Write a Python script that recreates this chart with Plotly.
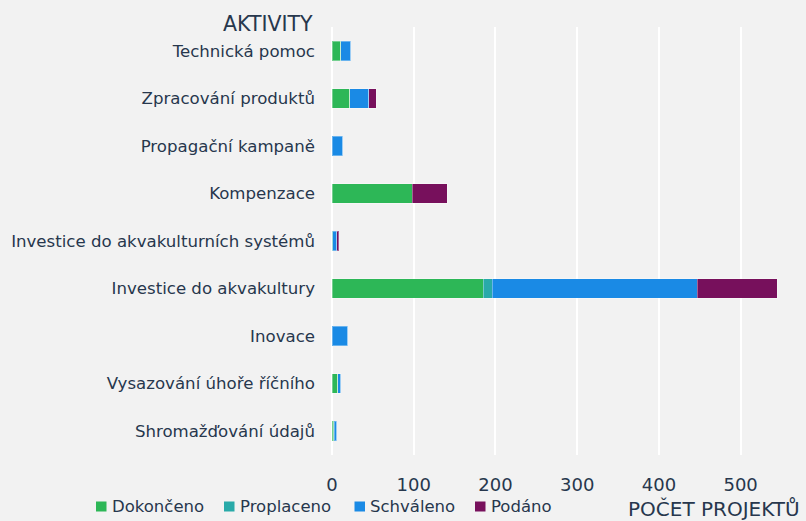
import plotly.graph_objects as go

categories = [
    "Technická pomoc",
    "Zpracování produktů",
    "Propagační kampaně",
    "Kompenzace",
    "Investice do akvakulturních systémů",
    "Investice do akvakultury",
    "Inovace",
    "Vysazování úhoře říčního",
    "Shromažďování údajů",
]
series_names = ["Dokončeno", "Proplaceno", "Schváleno", "Podáno"]
dokonceno = [11, 22, 0, 98, 0, 185, 0, 7, 2]
proplaceno = [0, 0, 0, 0, 1, 11, 0, 0, 1]
schvaleno = [12, 23, 13, 0, 5, 251, 19, 4, 3]
podano = [0, 9, 0, 43, 2, 98, 0, 0, 0]
x_ticks = [0, 100, 200, 300, 400, 500]

series_values = [dokonceno, proplaceno, schvaleno, podano]
colors = ["#2db757", "#29aaa9", "#1a8ae5", "#77105c"]

W, H = 806, 521
ML, MR, MT, MB = 332, 0, 27, 66
PW, PH = W - ML - MR, H - MT - MB
TXT = "#27374d"
FONT = "DejaVu Sans"


def px(x):
    return (x - ML) / PW


def py(y):
    return (H - MB - y) / PH


fig = go.Figure()
for name, vals, col in zip(series_names, series_values, colors):
    fig.add_trace(go.Bar(
        y=categories, x=vals, name=name, orientation="h",
        marker=dict(color=col, line=dict(color="rgba(255,255,255,0.35)", width=1)),
        showlegend=False,
    ))

# custom compact legend
sq_left = [96, 224, 354.5, 475]
txt_left = [110, 238, 368, 489]
for i, (name, col) in enumerate(zip(series_names, colors)):
    fig.add_shape(type="rect", xref="paper", yref="paper",
                  x0=px(sq_left[i]), x1=px(sq_left[i] + 10.5),
                  y0=py(511.5), y1=py(501.5),
                  fillcolor=col, line=dict(width=0))
    fig.add_annotation(text=name, xref="paper", yref="paper",
                       x=px(txt_left[i]), y=py(507), xanchor="left", yanchor="middle",
                       showarrow=False, font=dict(family=FONT, size=16.5, color=TXT))

fig.add_annotation(text="AKTIVITY", xref="paper", yref="paper",
                   x=px(315), y=py(24), xanchor="right", yanchor="middle",
                   showarrow=False, font=dict(family=FONT, size=20.5, color=TXT))
fig.add_annotation(text="POČET PROJEKTŮ", xref="paper", yref="paper",
                   x=px(626), y=py(509), xanchor="left", yanchor="middle",
                   showarrow=False, font=dict(family=FONT, size=20, color=TXT))

fig.update_layout(
    width=W, height=H,
    barmode="stack", bargap=0.59,
    paper_bgcolor="#f2f2f2", plot_bgcolor="#f2f2f2",
    margin=dict(l=ML, r=MR, t=MT, b=MB),
    font=dict(family=FONT, color=TXT),
    xaxis=dict(range=[0, 580], tickvals=x_ticks, showgrid=True, gridcolor="#ffffff",
               gridwidth=2, zeroline=True, zerolinecolor="#ffffff", zerolinewidth=2,
               showline=False, ticks="", tickfont=dict(size=18, color=TXT),
               ticklabelstandoff=17),
    yaxis=dict(categoryorder="array", categoryarray=categories, autorange="reversed",
               showgrid=False, zeroline=False, showline=False, ticks="",
               tickfont=dict(size=16.6, color=TXT), ticklabelstandoff=16),
)

fig.write_html(
    "out.html",
    config={"displayModeBar": False},
    post_script="document.body.style.margin='0';document.body.style.background='#f2f2f2';",
)
